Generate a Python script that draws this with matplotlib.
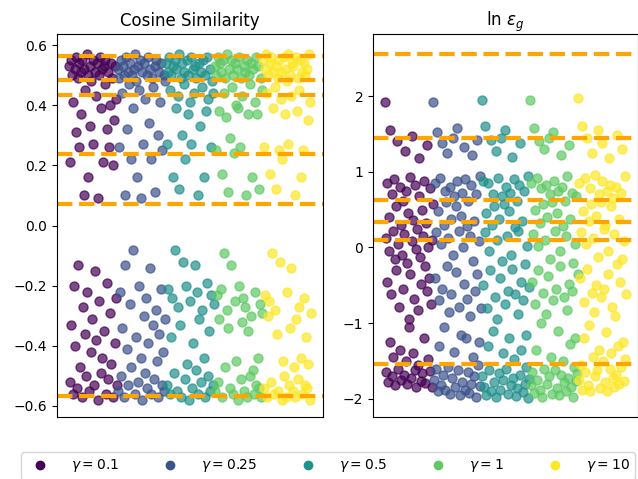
import numpy as np
import matplotlib.pyplot as plt
from matplotlib.lines import Line2D

gammas = ["0.1", "0.25", "0.5", "1", "10"]

# cosine similarity per gamma (left panel)
purple_cos = [0.53, -0.52, 0.21, 0.55, -0.33, 0.50, -0.56, 0.41, -0.20, 0.52,
              -0.40, 0.56, 0.31, -0.54, 0.49, -0.13, 0.26, 0.54, -0.47, 0.51,
              0.37, -0.57, 0.55, -0.27, 0.10, 0.52, -0.36, 0.45, -0.50, 0.57,
              -0.22, 0.50, 0.16, -0.55, 0.53, 0.33, -0.42, 0.48, -0.31, 0.55,
              0.27, -0.53, 0.51, -0.15, 0.43, -0.38, 0.54, 0.09, -0.58, 0.50,
              -0.25, 0.56, 0.39, -0.49, 0.52, -0.44, 0.21, 0.53, -0.35, 0.47,
              0.55, -0.56, 0.32, -0.19, 0.51, -0.51, 0.26, 0.40, -0.29, 0.54,
              -0.46, 0.49, 0.20, -0.57, 0.35, -0.39, 0.53, -0.24, 0.42, -0.53]
blue_cos = [0.52, -0.55, 0.26, 0.49, -0.22, 0.55, -0.50, 0.44, -0.34, 0.53,
            -0.57, 0.50, 0.10, -0.13, 0.56, -0.41, 0.32, 0.51, -0.53, 0.47,
            -0.26, 0.54, 0.22, -0.47, 0.50, -0.08, 0.39, 0.52, -0.56, 0.57,
            -0.37, 0.48, 0.16, -0.52, 0.53, -0.20, 0.45, 0.55, -0.44, 0.09,
            0.51, -0.58, 0.27, -0.30, 0.54, -0.49, 0.42, -0.24, 0.50, -0.54,
            0.56, -0.39, 0.34, -0.14, 0.52, -0.56, 0.22, 0.49, -0.33, 0.46,
            -0.51, 0.53, 0.11, -0.28, 0.55, -0.45, 0.30, -0.57, 0.51, -0.36,
            0.41, -0.21, 0.54, -0.53, 0.25, -0.42, 0.50, -0.55, 0.48, -0.31]
teal_cos = [0.54, -0.53, 0.27, 0.51, -0.21, 0.56, -0.56, 0.45, -0.37, 0.50,
            -0.24, 0.53, 0.16, -0.49, 0.55, -0.08, 0.39, 0.52, -0.55, 0.43,
            -0.27, 0.57, 0.12, -0.33, 0.49, -0.57, 0.30, 0.54, -0.12, 0.47,
            0.51, -0.51, 0.22, -0.20, 0.55, -0.46, 0.37, 0.50, -0.58, 0.41,
            -0.25, 0.56, 0.27, -0.54, 0.52, -0.39, 0.44, -0.13, 0.53, -0.48,
            0.49, -0.22, 0.10, -0.56, 0.54, -0.31, 0.33, 0.51, -0.52, 0.46,
            -0.28, 0.55, 0.16, -0.44, 0.50, -0.57, 0.38, -0.19, 0.56, -0.50,
            0.42, -0.35, 0.52, -0.55, 0.26, -0.23, 0.48, -0.53, 0.44, -0.26]
green_cos = [0.53, -0.55, 0.25, 0.50, -0.23, 0.56, -0.52, 0.38, -0.31, 0.54,
             -0.21, 0.51, 0.17, -0.57, 0.55, -0.09, 0.44, 0.49, -0.47, 0.36,
             -0.28, 0.57, 0.11, -0.34, 0.52, -0.54, 0.29, 0.55, -0.13, 0.46,
             0.50, -0.56, 0.24, -0.25, 0.54, -0.45, 0.40, 0.52, -0.58, 0.39,
             -0.20, 0.56, 0.26, -0.51, 0.49, -0.32, 0.43, -0.24, 0.53, -0.55,
             0.51, -0.27, 0.10, -0.57, 0.55, -0.35, 0.37, 0.50, -0.50, 0.47,
             -0.30, 0.54, 0.16, -0.48, 0.52, -0.56, 0.41, -0.22, 0.56, -0.53,
             0.37, -0.44, 0.53, -0.54, 0.12, -0.26, 0.49, -0.57, 0.45, -0.29]
yellow_cos = [0.55, -0.54, 0.26, 0.52, -0.23, 0.57, -0.57, 0.44, -0.30, 0.50,
              -0.25, 0.54, 0.17, -0.52, 0.56, -0.09, 0.39, 0.51, -0.56, 0.46,
              -0.28, 0.53, 0.12, -0.36, 0.49, -0.55, 0.25, 0.55, -0.12, 0.42,
              0.51, -0.58, 0.22, -0.45, 0.56, -0.50, 0.37, 0.52, -0.57, 0.48,
              -0.22, 0.57, 0.27, -0.53, 0.50, -0.34, 0.43, -0.14, 0.54, -0.55,
              0.53, -0.47, 0.10, -0.57, 0.56, -0.31, 0.38, 0.49, -0.51, 0.45,
              -0.27, 0.55, 0.16, -0.44, 0.51, -0.56, 0.25, -0.24, 0.54, -0.53,
              0.50, -0.37, 0.52, -0.54, 0.35, -0.46, 0.57, -0.58, 0.41, -0.29]

# ln eps_g per gamma (right panel)
purple_ln = [1.92, -1.65, 0.12, 0.85, -0.45, -1.78, 0.40, -0.05, -1.25, 1.55,
             -0.62, 0.70, -1.70, 0.22, -1.45, 0.90, -0.15, -1.82, 0.55, -0.30,
             1.40, -1.60, 0.05, -0.78, 0.80, -1.35, 0.30, -1.75, -0.10, 0.62,
             -0.55, -1.68, 0.18, 1.28, -1.50, 0.75, -0.20, -1.80, 0.45, -0.95,
             -1.05, 0.93, -0.35, -1.72, 0.08, 1.47, -1.40, 0.36, -0.68, -1.62,
             0.82, -0.02, -1.85, 0.25, -0.82, -1.55, 0.68, 1.18, -0.12, -1.76,
             -0.48, 0.50, -1.66, 0.15, -1.20, 0.88, -0.25, -1.79, 0.32, -0.58,
             1.35, -1.48, 0.00, -0.40, -1.63, 0.78, -0.75, 0.10, -1.84, 0.58]
blue_ln = [1.92, -1.75, 0.85, -0.40, -1.60, 0.20, 1.52, -1.90, 0.48, -0.70,
           -1.30, 0.92, -1.82, 0.05, -0.55, 1.38, -1.68, 0.30, -1.05, 0.75,
           -1.88, 0.60, -0.25, 1.25, -1.58, 0.12, -0.85, 0.80, -1.93, 0.38,
           -0.62, -1.72, 1.45, -0.10, 0.68, -1.38, -1.85, 0.55, -0.32, 1.58,
           0.88, -1.62, 0.22, -0.78, -1.95, 0.42, -1.15, 0.72, -1.78, 0.00,
           -0.48, 1.33, -1.88, 0.90, -1.20, 0.28, -0.68, -1.65, 0.62, -1.92,
           0.15, -0.90, 0.82, -1.80, 1.22, -0.18, -1.45, 0.35, -1.70, -0.58,
           0.70, -1.98, -0.35, 1.42, -1.55, 0.08, -1.25, 0.95, -1.83, -0.80]
teal_ln = [1.95, -1.70, 0.88, -0.50, -1.85, 0.20, 1.60, -1.95, 0.45, -0.80,
           -1.30, 0.85, -1.62, -0.05, -0.30, 1.42, -1.90, 0.30, -1.10, 0.70,
           -1.78, 0.55, -0.65, 1.28, -1.98, 0.10, -0.95, 0.92, -1.66, 0.38,
           -0.40, -1.88, 1.45, -0.18, 0.68, -1.40, -1.75, 0.58, -0.75, 1.55,
           0.80, -1.60, 0.15, -0.58, -1.93, 0.48, -1.20, 0.72, -1.82, -0.10,
           -0.28, 1.20, -1.72, 0.90, -1.48, 0.27, -0.62, -1.96, 0.62, -1.86,
           0.22, -0.88, 0.82, -1.68, 1.38, -0.45, -1.35, 0.35, -1.91, -0.70,
           0.75, -1.80, -0.22, -1.58, -1.15, 0.02, -1.99, 0.95, -1.74, -0.52]
green_ln = [1.95, -1.82, 0.85, -0.45, -1.65, 0.18, 1.58, -1.92, 0.50, -0.75,
            -1.35, 0.92, -1.75, 0.02, -0.30, 1.40, -1.88, 0.32, -1.00, 0.78,
            -1.97, 0.58, -0.60, 1.30, -1.60, 0.10, -0.88, 0.82, -1.80, 0.40,
            -0.38, -1.70, 1.45, -0.15, 0.70, -1.45, -1.93, 0.60, -0.70, 1.52,
            0.88, -1.62, 0.22, -0.55, -1.86, 0.45, -1.10, 0.75, -1.95, -0.05,
            -0.25, 1.22, -1.68, 0.80, -1.50, 0.28, -0.65, -1.78, 0.62, -1.90,
            0.15, -0.82, 0.95, -1.72, 1.36, -0.48, -1.28, 0.38, -1.84, -0.58,
            0.72, -1.98, -0.20, -1.58, -1.20, 0.05, -1.76, 0.68, -1.66, -0.35]
yellow_ln = [1.97, -1.75, 0.85, -0.40, -1.55, 0.20, 1.60, -1.88, 0.48, -0.72,
             -1.20, 0.92, -1.65, 0.05, -0.28, 1.45, -1.82, 0.35, -1.02, 0.78,
             -1.90, 0.58, -0.60, 1.25, -1.45, 0.12, -0.85, 0.96, -1.70, 0.42,
             -0.50, -1.62, 1.55, -0.12, 0.70, -1.35, -1.86, 0.60, -0.65, 1.38,
             0.88, -1.50, 0.25, -0.55, -1.78, 0.30, -1.12, 0.75, -1.90, -0.05,
             -0.35, 1.18, -1.60, 0.82, -1.40, 0.55, -0.78, -1.72, 0.65, -1.85,
             0.18, -0.90, 0.80, -1.68, 1.48, -0.22, -1.30, 0.38, -1.80, -0.45,
             0.72, -1.58, -0.15, 1.30, -1.25, 0.08, -1.76, 0.95, -1.48, -0.62]

# reference levels (dashed orange)
cos_lines = [0.565, 0.485, 0.433, 0.239, 0.070, -0.568]
ln_lines = [2.56, 1.45, 0.63, 0.34, 0.10, -1.54]

cos_data = [purple_cos, blue_cos, teal_cos, green_cos, yellow_cos]
ln_data = [purple_ln, blue_ln, teal_ln, green_ln, yellow_ln]
colors = plt.cm.viridis(np.linspace(0, 1, len(gammas)))

fig = plt.figure(figsize=(6.38, 4.79), dpi=100)
ax1 = fig.add_axes([0.0893, 0.1294, 0.4169, 0.7996])
ax2 = fig.add_axes([0.5846, 0.1294, 0.4154, 0.7996])

for ax, data, lines in [(ax1, cos_data, cos_lines), (ax2, ln_data, ln_lines)]:
    start = 0
    for vals, c in zip(data, colors):
        x = np.arange(start, start + len(vals))
        ax.scatter(x, vals, color=c, alpha=0.7, s=42)
        start += len(vals)
    for h in lines:
        ax.axhline(h, color='orange', ls='--', lw=3)
    ax.set_xticks([])

ax1.set_ylim(-0.637, 0.637)
ax2.set_ylim(-2.24, 2.82)
ax1.set_title('Cosine Similarity')
ax2.set_title(r'ln $\varepsilon_g$')

handles = [Line2D([], [], marker='o', ls='', color=c, markersize=6) for c in colors]
labels = [r'$\gamma = %s$' % g for g in gammas]
fig.legend(handles, labels, loc='upper center', ncol=5,
           handletextpad=1.2, columnspacing=2.7,
           bbox_to_anchor=(0.514, 0.071))

fig.savefig('out.png', dpi=100)
